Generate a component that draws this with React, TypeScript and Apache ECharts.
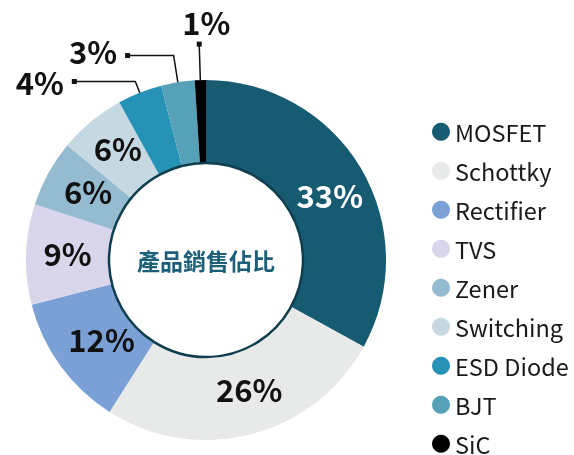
import React, { useEffect, useRef } from 'react';
import * as echarts from 'echarts';

const categories = ['MOSFET', 'Schottky', 'Rectifier', 'TVS', 'Zener', 'Switching', 'ESD Diode', 'BJT', 'SiC'];
const shares = [33, 26, 12, 9, 6, 6, 4, 3, 1];
const centerTitle = '產品銷售佔比';

const FONT = '"Noto Sans CJK TC", "Noto Sans", sans-serif';
const palette = ['#175b72', '#e8e9e9', '#7ba0d6', '#d9d6ec', '#95bbd0', '#c6d9e2', '#2692b6', '#56a1b8', '#000000'];
const outsideCfg: Record<string, { len: number; len2: number; inset: number; fmt: string }> = {
  'ESD Diode': { len: 12, len2: 61, inset: 21, fmt: '{t|{c}%}{g|}{sq|}' },
  BJT: { len: 27, len2: 46, inset: 3, fmt: '{tu|{c}%}{g|}{sq|}' },
  SiC: { len: 36, len2: 0, inset: 0, fmt: '{tb|{c}%}\n{sq|}{sp|}' },
};
// small nudges of the inside labels (px)
const insideNudge: Record<string, [number, number]> = {
  MOSFET: [2, 7],
  Schottky: [8, -9],
  Rectifier: [10, -5],
  TVS: [3, -3],
  Zener: [6, -1],
  Switching: [2, -3],
};
const PCT_SIZE = 31;

export default function App() {
  const ref = useRef<HTMLDivElement>(null);
  useEffect(() => {
    const chart = echarts.init(ref.current!, undefined, { renderer: 'svg' });
    const data = categories.map((name, i) => {
      const cfg = outsideCfg[name];
      if (cfg) {
        return {
          name,
          value: shares[i],
          itemStyle: { color: palette[i] },
          label: { show: true, position: 'outside', formatter: cfg.fmt },
          labelLine: {
            show: true,
            length: cfg.len,
            length2: cfg.len2,
            lineStyle: { color: '#111', width: 1.5 },
          },
        };
      }
      return {
        name,
        value: shares[i],
        itemStyle: { color: palette[i] },
        label: {
          show: true,
          position: 'inside',
          formatter: '{t|{c}%}',
          rich: { t: { fontSize: PCT_SIZE, fontWeight: 'bold', fontFamily: FONT, color: i === 0 ? '#ffffff' : '#111111' } },
        },
        labelLine: { show: false },
      };
    });

    const pct = { fontSize: PCT_SIZE, fontWeight: 'bold', fontFamily: FONT, color: '#111111' };

    chart.setOption({
      animation: false,
      legend: {
        orient: 'vertical',
        left: 427,
        top: 115,
        height: 420,
        itemWidth: 18,
        itemHeight: 18,
        itemGap: 15.5,
        icon: 'circle',
        data: categories,
        textStyle: { fontSize: 23.5, fontFamily: FONT, color: '#1a1a1a' },
      },
      series: [
        {
          type: 'pie',
          center: [206, 260],
          radius: [97, 180],
          startAngle: 90,
          clockwise: true,
          avoidLabelOverlap: false,
          itemStyle: { borderWidth: 0 },
          label: {
            fontFamily: FONT,
            rich: {
              t: pct,
              tu: { ...pct, padding: [0, 0, 10, 0] },
              tb: { ...pct, padding: [0, 0, 5, 0] },
              g: { width: 8 },
              sq: { width: 5, height: 5, backgroundColor: '#111111' },
              sp: { width: 14, height: 5 },
            },
          },
          labelLayout: (p: any) => {
            const name = categories[p.dataIndex];
            const cfg = outsideCfg[name];
            if (!cfg) {
              const n = insideNudge[name];
              return n ? { dx: n[0], dy: n[1] } : {};
            }
            if (!p.labelLinePoints) return {};
            const pts = p.labelLinePoints.map((q: number[]) => [q[0], q[1]]);
            const end = pts[2];
            const dx = pts[1][0] - pts[0][0];
            const dy = pts[1][1] - pts[0][1];
            const l = Math.hypot(dx, dy) || 1;
            pts[0] = [pts[0][0] - (dx / l) * cfg.inset, pts[0][1] - (dy / l) * cfg.inset];
            if (name === 'SiC') {
              return { x: end[0] + 7, y: end[1] + 2.5, align: 'center', verticalAlign: 'bottom', labelLinePoints: pts };
            }
            return { x: end[0] + 2.5, y: end[1], align: 'right', verticalAlign: 'middle', labelLinePoints: pts };
          },
          data,
        },
        {
          type: 'pie',
          center: [206, 260],
          radius: [0, 97],
          silent: true,
          itemStyle: { color: '#ffffff', borderColor: '#0f3e4f', borderWidth: 2.5 },
          label: {
            show: true,
            position: 'center',
            formatter: centerTitle,
            fontSize: 23,
            fontWeight: 'bold',
            fontFamily: FONT,
            color: '#1d5f78',
          },
          labelLine: { show: false },
          data: [{ name: centerTitle, value: 1 }],
        },
      ],
    });
    return () => chart.dispose();
  }, []);
  return <div ref={ref} style={{ position: 'fixed', left: 0, top: 0, width: 574, height: 455 }} />;
}
